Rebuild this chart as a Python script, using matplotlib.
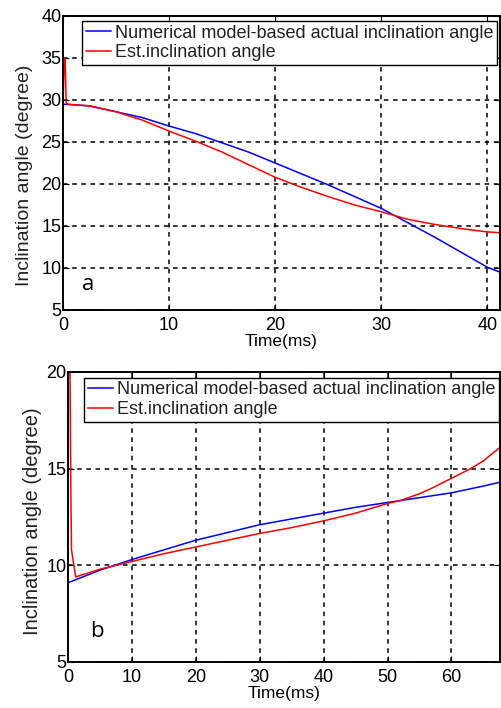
import matplotlib
matplotlib.use("Agg")
import matplotlib.pyplot as plt

plt.rcParams['font.family'] = ['Liberation Sans', 'DejaVu Sans']

# Panel a data
t_a_blue = [0, 2.5, 5, 7.5, 10, 12.5, 15, 17.5, 20, 22.5, 25, 27.5, 30, 32.5, 35, 37.5, 40, 41.2]
a_blue = [29.5, 29.3, 28.6, 27.9, 26.9, 26.0, 24.9, 23.8, 22.5, 21.2, 19.9, 18.5, 17.1, 15.4, 13.7, 11.9, 10.1, 9.5]
t_a_red = [0, 0.1, 0.2, 0.3, 0.5, 2.5, 5, 7.5, 10, 12.5, 15, 17.5, 20, 22.5, 25, 27.5, 30, 32.5, 35, 37.5, 40, 41.2]
a_red = [29.2, 33.8, 35.0, 29.6, 29.5, 29.3, 28.6, 27.6, 26.3, 25.1, 23.8, 22.3, 20.8, 19.6, 18.5, 17.5, 16.7, 15.8, 15.2, 14.7, 14.3, 14.2]

# Panel b data
t_b_blue = [0, 5, 10, 15, 20, 25, 30, 35, 40, 45, 50, 55, 60, 65, 67.6]
b_blue = [9.1, 9.75, 10.3, 10.8, 11.3, 11.7, 12.1, 12.4, 12.7, 13.0, 13.25, 13.5, 13.75, 14.1, 14.3]
t_b_red = [0.3, 0.45, 0.55, 1.2, 5, 10, 15, 20, 25, 30, 35, 40, 45, 50, 52, 55, 57, 60, 63, 65, 67.6]
b_red = [20.5, 13.7, 10.8, 9.4, 9.8, 10.2, 10.6, 10.95, 11.3, 11.65, 11.95, 12.3, 12.7, 13.2, 13.35, 13.7, 14.0, 14.5, 15.0, 15.4, 16.1]

labels = ["Numerical model-based actual inclination angle", "Est.inclination angle"]
xticks_a = [0, 10, 20, 30, 40]
yticks_a = [5, 10, 15, 20, 25, 30, 35, 40]
xticks_b = [0, 10, 20, 30, 40, 50, 60]
yticks_b = [5, 10, 15, 20]

fig = plt.figure(figsize=(5.01, 7.08), dpi=100)
W, H = 501, 708

def style(ax):
    ax.grid(True, color='black', linestyle=(0, (3, 3)), linewidth=1.1)
    ax.tick_params(direction='in', top=True, right=True, labelsize=13, length=4, pad=1)
    ax.tick_params(axis='x', pad=5)
    for s in ax.spines.values():
        s.set_linewidth(1.4)

def legend(ax, anchor):
    leg = ax.legend(loc='upper right', bbox_to_anchor=anchor, fontsize=13, frameon=True,
                    fancybox=False, edgecolor='black', handlelength=1.4, handletextpad=0.2,
                    borderpad=0.2, labelspacing=0.15, borderaxespad=0, framealpha=1)
    leg.get_frame().set_linewidth(1.0)
    for t in leg.get_texts():
        t.set_color('#222222')

ax1 = fig.add_axes([63 / W, 1 - 310 / H, (500 - 63) / W, (310 - 16) / H])
ax1.plot(t_a_blue, a_blue, color='blue', lw=1.1, label=labels[0])
ax1.plot(t_a_red, a_red, color='red', lw=1.1, label=labels[1])
ax1.set_xlim(0, 41.2)
ax1.set_ylim(5, 40)
ax1.set_xticks(xticks_a)
ax1.set_yticks(yticks_a)
style(ax1)
ax1.set_xlabel("Time(ms)", fontsize=12.5, labelpad=0)
ax1.set_ylabel("Inclination angle (degree)", fontsize=14, color='#222222')
ax1.yaxis.set_label_coords(-0.069, 0.459)
legend(ax1, (0.993, 0.983))
ax1.text(2.4, 8, "a", fontsize=16, ha='center', va='center', family='Open Sans')

ax2 = fig.add_axes([68 / W, 1 - 662 / H, (500 - 68) / W, (662 - 372) / H])
ax2.plot(t_b_blue, b_blue, color='blue', lw=1.1, label=labels[0])
ax2.plot(t_b_red, b_red, color='red', lw=1.1, label=labels[1])
ax2.set_xlim(0, 67.6)
ax2.set_ylim(5, 20)
ax2.set_xticks(xticks_b)
ax2.set_yticks(yticks_b)
style(ax2)
ax2.set_xlabel("Time(ms)", fontsize=12.5, labelpad=0)
ax2.set_ylabel("Inclination angle (degree)", fontsize=14.5, color='#222222')
ax2.yaxis.set_label_coords(-0.06, 0.486)
legend(ax2, (0.997, 0.98))
ax2.text(4.5, 6.6, "b", fontsize=16, ha='center', va='center', family='Open Sans')

fig.savefig("out.png", dpi=100)
